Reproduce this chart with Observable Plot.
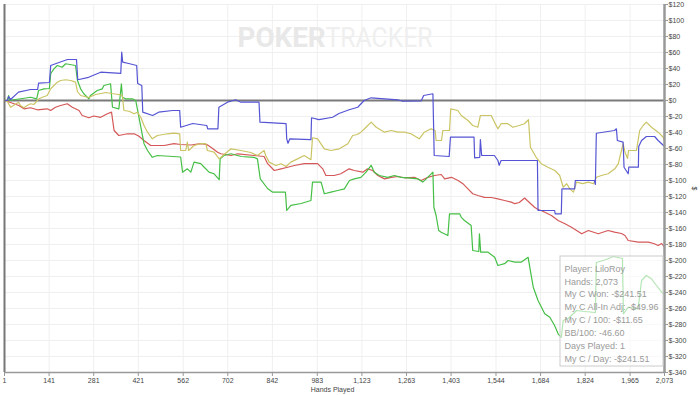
<!DOCTYPE html>
<html>
<head>
<meta charset="utf-8">
<script src="https://cdn.jsdelivr.net/npm/d3@7"></script>
<script src="https://cdn.jsdelivr.net/npm/@observablehq/plot@0.6"></script>
<style>
  html, body { margin: 0; padding: 0; background: #fff; }
  svg { display: block; }
</style>
</head>
<body>
<script>
// ---- data (hands played, cumulative $) ----
const xTicks = [1,141,281,421,562,702,842,983,1123,1263,1403,1544,1684,1824,1965,2073];
const yTicks = [-340,-320,-300,-280,-260,-240,-220,-200,-180,-160,-140,-120,-100,-80,-60,-40,-20,0,20,40,60,80,100,120];

const blueH = [1,10,14,20,45,83,105,108,142,146,183,199,227,231,265,303,366,369,372,391,416,419,432,435,466,485,529,551,554,592,636,639,671,674,701,727,743,800,803,885,887,891,897,963,965,988,1031,1051,1083,1110,1130,1152,1236,1251,1309,1317,1346,1350,1397,1401,1475,1477,1493,1495,1499,1539,1550,1554,1560,1644,1674,1676,1728,1730,1749,1751,1791,1793,1853,1856,1859,1916,1922,1925,1943,1946,1959,1961,1991,1992,2001,2016,2042,2053,2069,2073];
const blueV = [0,0,5,1.25,10.4,13.75,13.75,21.6,22.5,43.75,49,51.25,51.25,25.9,29,35.4,34,60.4,47.9,46.25,43.75,21.25,18.75,-14.6,-18.75,-14.6,-12.5,-12.5,-33.4,-28.75,-31.25,-35.4,-35.4,-8.4,-2.1,0.9,-2.1,-2.1,-27,-29,-47.9,-53.4,-47.9,-49,-21.6,-24,-20.9,-16.25,-11.6,-8.4,0,3.4,0.9,-0.9,-0.6,6.25,8.4,-68.75,-70,-45.9,-45.9,-71.6,-71,-49,-68.75,-68.75,-75,-81,-75,-75,-75,-137.5,-137.5,-141.6,-141.6,-110.4,-110.4,-100,-100,-105,-40.9,-37.5,-35.4,-50,-52,-83.4,-91.6,-83.4,-83.4,-57.5,-50,-45,-45,-50,-56,-57.5];

const greenH = [1,10,14,17,29,58,83,102,108,125,142,146,156,167,182,193,224,230,240,250,266,271,292,308,313,334,340,360,368,371,381,402,413,423,439,450,465,481,554,560,575,586,596,617,628,643,659,675,678,690,712,744,784,795,804,827,843,883,887,900,932,963,968,995,1005,1026,1047,1068,1084,1099,1120,1136,1152,1162,1178,1204,1225,1246,1267,1299,1314,1325,1346,1349,1356,1364,1372,1393,1398,1430,1435,1445,1466,1471,1490,1492,1496,1519,1540,1550,1571,1582,1603,1624,1645,1650,1661,1676,1697,1713,1728,1739,1749,1755,1771,1797,1822,1856,1859,1890,1912,1941,1944,1959,1990,2001,2016,2032,2048,2064,2073];
const greenV = [0,0,6.25,0,0.9,2.5,4.1,2.1,12.5,14.6,15,33.4,39.6,43.75,41.6,45.9,43.75,25,14.6,8.4,2.1,6.25,12.5,14.6,18.75,20.9,-8.4,-10.4,20.9,4.1,2.1,2.1,0,-20.9,-54,-62.5,-71,-68.75,-70.6,-89.6,-85.4,-89.6,-77,-79,-83.4,-89.6,-91.6,-99,-72.9,-68.75,-66.6,-70,-71,-73,-98,-110,-114.6,-114.6,-137.5,-131,-128.75,-125,-102,-102,-116.6,-114.6,-112.5,-110.4,-100,-98,-96,-89.6,-81,-89.6,-93.75,-96,-93.75,-96,-96.6,-98,-102,-98,-89.6,-133.4,-143.75,-162.5,-164.6,-168.75,-141.6,-141.6,-146,-150,-156.25,-187.5,-188.75,-166.6,-189.6,-189.6,-196,-206.25,-204,-200,-202,-202,-196,-208.4,-233.4,-250,-266.6,-271,-281.25,-291.6,-296,-275,-272.5,-262.5,-263.75,-265,-202.5,-198.75,-195,-197.5,-266.6,-258.4,-260.4,-225,-218.75,-222.9,-231.25,-239.6,-241.5];

const yellowH = [1,10,20,29,45,51,62,72,83,93,109,120,135,146,156,167,177,193,209,224,230,240,265,287,319,337,359,371,376,392,408,418,429,439,450,465,481,513,533,551,554,570,575,579,596,617,633,638,659,675,687,712,743,774,795,816,821,832,853,869,885,900,921,942,963,968,984,1005,1026,1052,1079,1094,1108,1120,1136,1152,1168,1194,1215,1236,1256,1277,1303,1319,1340,1353,1356,1373,1377,1398,1402,1424,1435,1456,1471,1487,1495,1529,1539,1550,1560,1581,1597,1617,1633,1646,1652,1670,1686,1707,1729,1744,1755,1766,1776,1787,1797,1816,1834,1850,1859,1875,1896,1917,1928,1943,1949,1957,1960,1985,1995,2006,2016,2032,2053,2069,2073];
const yellowV = [0,-1.25,-8.4,-6.25,-2.1,-6.25,-9.1,-6.25,-4.1,-5,2.1,4.1,6.25,14.6,18.75,22.9,25,25.9,25,22.9,11.25,6.25,3.75,7.5,10,8.75,7.5,6.25,-12.5,-13.4,-16.6,-14.6,-20.9,-31.25,-39.6,-47.9,-43.75,-41.6,-40.9,-41.6,-62.5,-62.5,-52,-62.5,-56.25,-54,-54,-62.5,-64.6,-73,-68.75,-60.4,-62.5,-65,-68.75,-62.5,-68.75,-77,-81.25,-79,-82.5,-77,-73,-68.75,-74,-46.6,-47.9,-60.4,-62.5,-60.4,-54,-43.75,-42.5,-39.6,-33.4,-27,-33.4,-39.6,-37.5,-39.6,-39.6,-41.6,-47.9,-39.6,-35.4,-37.5,-50,-50,-37.5,-37.5,-10.4,-12.5,-18.75,-25,-31.25,-33.4,-18.75,-18.75,-27,-35.4,-29,-29,-33.4,-31.25,-29,-24,-58.4,-71,-79,-83.4,-87.5,-93.75,-108.4,-104,-110.4,-114.6,-102,-104,-102,-104,-96,-93.75,-91.6,-85.4,-79,-54,-64.6,-72.5,-62.5,-62.5,-37.5,-31.25,-27,-33.4,-39.6,-45.9,-50];

const redH = [1,20,46,62,83,104,135,146,161,177,198,214,235,245,266,281,303,324,337,345,360,387,408,422,439,460,502,533,554,586,617,636,649,670,680,712,733,785,816,827,848,869,890,911,942,984,1000,1010,1036,1057,1083,1099,1126,1141,1157,1173,1194,1215,1236,1257,1288,1309,1330,1351,1372,1383,1404,1425,1440,1456,1471,1487,1508,1529,1550,1571,1592,1603,1617,1634,1642,1665,1676,1686,1718,1739,1759,1781,1813,1834,1865,1896,1916,1938,1949,1959,1991,2022,2039,2053,2064,2073];
const redV = [0,-2.5,-6.25,-10.4,-9.1,-11.6,-10.4,-12.5,-8.4,-6.25,-4.1,-8.4,-12.5,-18.75,-21.6,-19.4,-21,-16.6,-14.6,-37.5,-43.75,-41.6,-41.6,-44.4,-50,-56.25,-56.25,-54,-55,-55.6,-54,-55,-58.4,-64.6,-66.6,-68.75,-66.6,-68.75,-70,-79,-87.5,-85.4,-83.4,-81.25,-79,-79,-85.4,-93.75,-93.75,-91.6,-85.4,-87.5,-89.6,-85.4,-87.5,-93.75,-98,-96,-95,-96.6,-96,-100,-96,-93.75,-92.5,-98,-96,-100,-104,-110.4,-116.6,-118.75,-121,-121.25,-123,-125,-127,-129,-127.5,-121.9,-125,-133.4,-136.25,-137.5,-143.75,-150,-153.75,-158.4,-166.6,-162.5,-166.6,-162.5,-164.6,-166.25,-168.75,-175,-177,-177,-178.75,-181.25,-178.75,-183.4];

const tooltipLines = [
  "Player: LiloRoy",
  "Hands: 2,073",
  "My C Won: -$241.51",
  "My C All-In Adj: -$49.96",
  "My C / 100: -$11.65",
  "BB/100: -46.60",
  "Days Played: 1",
  "My C / Day: -$241.51"
];

// ---- build table ----
const toRows = (H, V) => H.map((h, i) => ({h, v: V[i]}));
const series = [
  {name: "red", color: "#d45858", rows: toRows(redH, redV)},
  {name: "green", color: "#45bf45", rows: toRows(greenH, greenV)},
  {name: "yellow", color: "#cbc464", rows: toRows(yellowH, yellowV)},
  {name: "blue", color: "#5454d4", rows: toRows(blueH, blueV)}
];

const font = "'Liberation Sans', Arial, sans-serif";

const chart = Plot.plot({
  width: 700,
  height: 395,
  marginLeft: 4,
  marginRight: 36,
  marginTop: 4,
  marginBottom: 23,
  style: {fontFamily: font, background: "#fff", overflow: "visible"},
  x: {domain: [1, 2073]},
  y: {domain: [-340, 120]},
  marks: [
    Plot.gridX(xTicks, {stroke: "#efefef", strokeOpacity: 1}),
    Plot.gridY(yTicks, {stroke: "#efefef", strokeOpacity: 1}),
    Plot.text(["POKER"], {text: d => d, frameAnchor: "top", textAnchor: "end", lineAnchor: "middle", dx: -9, dy: 34, fontSize: 28, fontWeight: "bold", fontFamily: "Roboto, sans-serif", fill: "#e8e8e8"}),
    Plot.text(["TRACKER"], {text: d => d, frameAnchor: "top", textAnchor: "start", lineAnchor: "middle", dx: -9, dy: 34, fontSize: 28, fontFamily: "Roboto, sans-serif", fill: "#efefef"}),
    Plot.ruleY([0], {stroke: "#7a7a7a", strokeWidth: 2}),
    ...series.map(s => Plot.line(s.rows, {x: "h", y: "v", stroke: s.color, strokeWidth: 1.2})),
    Plot.ruleX([1], {stroke: "#777", strokeWidth: 2}),
    Plot.ruleX([2073], {stroke: "#999", strokeWidth: 2.5}),
    Plot.ruleY([-340], {stroke: "#999", strokeWidth: 1.5}),
    Plot.axisX(xTicks, {tickFormat: d3.format(","), tickSize: 4, tickPadding: 2, fontSize: 7, stroke: "#999", fill: "#444", label: null}),
    Plot.axisY(yTicks, {anchor: "right", tickFormat: d => "$" + d, tickSize: 3, tickPadding: 1, fontSize: 7, stroke: "#999", fill: "#444", label: null}),
    Plot.text(["Hands Played"], {text: d => d, frameAnchor: "bottom", dx: -2, dy: 19, fontSize: 7, fill: "#444"}),
    Plot.text(["$"], {text: d => d, frameAnchor: "right", dx: 30, dy: 2, rotate: 90, fontSize: 7, fill: "#444"}),
    Plot.text([tooltipLines.join("\n")], {text: d => d, frameAnchor: "bottom-right", textAnchor: "start", lineAnchor: "top", dx: -100, dy: -110, lineHeight: 1.43, fontSize: 9, fill: "#9a9a9a"})
  ]
});

document.body.append(chart);

// find a mark's <text> by its content
const texts = Array.from(chart.querySelectorAll("text"));
const findText = s => texts.find(t => t.textContent === s || t.textContent.startsWith(s));

// watermark widths
const wm1 = findText("POKER");
const wm2 = findText("TRACKER");
if (wm1) { wm1.setAttribute("textLength", 88); wm1.setAttribute("lengthAdjust", "spacingAndGlyphs"); }
if (wm2) { wm2.setAttribute("textLength", 107); wm2.setAttribute("lengthAdjust", "spacingAndGlyphs"); }

// tooltip box behind the tooltip text (drawn over the lines)
const tipText = findText(tooltipLines[0]);
if (tipText) {
  const tip = tipText.closest("g") || tipText;
  const frameRight = 700 - 36, frameBottom = 395 - 23;
  const rect = document.createElementNS("http://www.w3.org/2000/svg", "rect");
  rect.setAttribute("x", frameRight - 104);
  rect.setAttribute("y", frameBottom - 116);
  rect.setAttribute("width", 103);
  rect.setAttribute("height", 110);
  rect.setAttribute("fill", "#ffffff");
  rect.setAttribute("fill-opacity", 0.6);
  rect.setAttribute("stroke", "#cccccc");
  rect.setAttribute("stroke-width", 1);
  tip.parentNode.insertBefore(rect, tip);
}
</script>
</body>
</html>
